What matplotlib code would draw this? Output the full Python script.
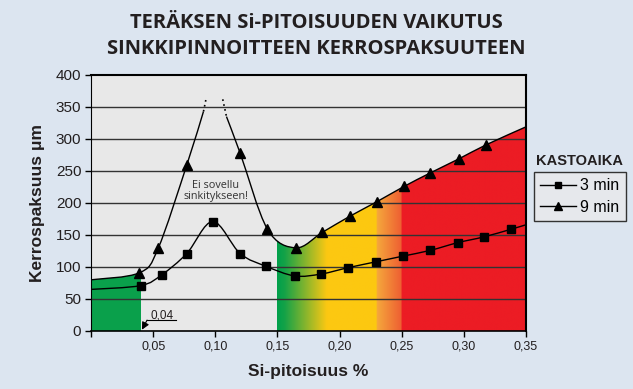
import numpy as np
import matplotlib
matplotlib.use("Agg")
import matplotlib.pyplot as plt
from matplotlib.path import Path
from matplotlib.patches import PathPatch, Rectangle
from matplotlib.lines import Line2D

# --- data --------------------------------------------------------------
# 3 min dip time (squares); first and last entries are line ends (no marker)
x_3min = [0.0, 0.040, 0.057, 0.077, 0.098, 0.120, 0.141, 0.164, 0.185,
          0.207, 0.229, 0.251, 0.273, 0.295, 0.316, 0.338, 0.350]
y_3min = [65, 71, 88, 121, 171, 121, 101, 86, 89, 99, 108, 117, 126,
          138, 147, 159, 166]

# 9 min dip time (triangles), curve broken at the peak
x_9min_left = [0.0, 0.039, 0.054, 0.077, 0.0905]
y_9min_left = [80, 91, 129, 259, 343]
x_9min_right = [0.109, 0.120, 0.142, 0.165, 0.186, 0.208, 0.230, 0.252,
                0.273, 0.296, 0.318, 0.350]
y_9min_right = [335, 278, 159, 130, 154, 179, 202, 226, 247, 269, 291, 319]
# dotted continuation towards the off-scale peak
peak_left = ([0.0905, 0.0925], [343, 362])
peak_right = ([0.106, 0.109], [362, 335])

x_ticks = [0.0, 0.05, 0.10, 0.15, 0.20, 0.25, 0.30, 0.35]
x_ticklabels = ["", "0,05", "0,10", "0,15", "0,20", "0,25", "0,30", "0,35"]
y_ticks = [0, 50, 100, 150, 200, 250, 300, 350, 400]

# colour zones along the Si axis (position, rgb)
zone_stops = [0.150, 0.156, 0.190, 0.230, 0.2302, 0.250, 0.2502, 0.350]
zone_colors = [(0, 160, 75), (20, 162, 72), (252, 200, 18), (253, 200, 16),
               (245, 168, 60), (238, 95, 50), (236, 28, 36), (236, 28, 36)]

BG = "#dce5f0"
PLOT_BG = "#e8e8e8"
GREEN = "#0aa04b"
TXT = "#231f20"


def smooth_path(xs, ys, close_to=None):
    """Catmull-Rom through the points, drawn as cubic Bezier segments."""
    p = np.column_stack([xs, ys]).astype(float)
    ext = np.vstack([p[0], p, p[-1]])
    verts = [p[0]]
    codes = [Path.MOVETO]
    for i in range(len(p) - 1):
        p0, p1, p2, p3 = ext[i], ext[i + 1], ext[i + 2], ext[i + 3]
        c1 = p1 + (p2 - p0) / 6.0
        c2 = p2 - (p3 - p1) / 6.0
        verts += [c1, c2, p2]
        codes += [Path.CURVE4] * 3
    if close_to is not None:
        verts += [(xs[-1], close_to), (xs[0], close_to), (xs[0], close_to)]
        codes += [Path.LINETO, Path.LINETO, Path.CLOSEPOLY]
    return Path(verts, codes)


plt.rcParams['font.family'] = ['Liberation Sans', 'DejaVu Sans']

fig = plt.figure(figsize=(6.33, 3.89), dpi=100, facecolor=BG)
ax = fig.add_axes([91 / 633, 1 - 331 / 389, 435 / 633, 256 / 389])
ax.set_facecolor(PLOT_BG)

# green zone on the left, under the 9 min curve
left_clip = PathPatch(smooth_path(x_9min_left, y_9min_left, close_to=0),
                      transform=ax.transData)
green = ax.add_patch(Rectangle((0, 0), 0.04, 400, color=GREEN, lw=0, zorder=1))
green.set_clip_path(left_clip)

# graded zone on the right, under the 9 min curve
gx = np.linspace(0.15, 0.35, 600)
grad = np.stack([np.interp(gx, zone_stops, [c[k] for c in zone_colors])
                 for k in range(3)], axis=-1)[None, :, :] / 255.0
right_clip = PathPatch(smooth_path(x_9min_right, y_9min_right, close_to=0),
                       transform=ax.transData)
im = ax.imshow(grad, extent=(0.15, 0.35, 0, 400), aspect="auto",
               interpolation="bilinear", zorder=1)
im.set_clip_path(right_clip)
ax.set_xlim(0, 0.35)
ax.set_ylim(0, 400)

# horizontal grid over the zones
for yv in y_ticks[1:-1]:
    ax.axhline(yv, color="#333333", lw=1.0, zorder=2)

# curves
for xs, ys in [(x_3min, y_3min), (x_9min_left, y_9min_left),
               (x_9min_right, y_9min_right)]:
    ax.add_patch(PathPatch(smooth_path(xs, ys), fill=False, ec="black",
                           lw=1.0, zorder=3))
for xs, ys in [peak_left, peak_right]:
    ax.plot(xs, ys, color="black", lw=1.2, ls=(0, (1, 2)), zorder=3)

ax.plot(x_3min[1:-1], y_3min[1:-1], ls="none", marker="s", ms=5.5,
        color="black", zorder=4)
ax.plot(x_9min_left[1:-1] + x_9min_right[1:-1],
        y_9min_left[1:-1] + y_9min_right[1:-1], ls="none", marker="^",
        ms=6.5, color="black", zorder=4)

ax.text(0.1005, 219, "Ei sovellu\nsinkitykseen!", ha="center", va="center",
        fontsize=7.8, color="#333333", family=["Open Sans", "DejaVu Sans"],
        linespacing=1.05, zorder=5)

# 0,04 marker
ax.text(0.0568, 25, "0,04", ha="center", va="center", fontsize=8.5,
        color=TXT, zorder=5)
ax.plot([0.0451, 0.0683], [17, 17], color="black", lw=0.8, zorder=5)
ax.annotate("", xy=(0.0410, 2), xytext=(0.0451, 17),
            arrowprops=dict(arrowstyle="-|>", color="black", lw=0.8,
                            mutation_scale=11, shrinkA=0, shrinkB=0),
            zorder=5)

# axes styling
for side in ["top", "right"]:
    ax.spines[side].set_linewidth(1.5)
ax.spines["left"].set_linewidth(0.8)
ax.spines["bottom"].set_linewidth(1.2)
ax.set_xticks(x_ticks)
ax.set_xticklabels(x_ticklabels, fontsize=9, color=TXT)
ax.set_yticks(y_ticks)
ax.set_yticklabels([str(v) for v in y_ticks], fontsize=11, color=TXT)
ax.tick_params(axis="both", direction="out", length=4, width=1, pad=3)
ax.set_xlabel("Si-pitoisuus %", fontsize=12.5, fontweight="bold",
              color=TXT, labelpad=8)
ax.set_ylabel("Kerrospaksuus μm", fontsize=12.5, fontweight="bold",
              color=TXT, labelpad=8)

# titles
fig.text(0.5, 1 - 23 / 389, "TERÄKSEN Si-PITOISUUDEN VAIKUTUS",
         ha="center", va="center", fontsize=14.5, fontweight="bold",
         color=TXT, family=["Open Sans", "DejaVu Sans"])
fig.text(0.5, 1 - 49 / 389, "SINKKIPINNOITTEEN KERROSPAKSUUTEEN",
         ha="center", va="center", fontsize=14.5, fontweight="bold",
         color=TXT, family=["Open Sans", "DejaVu Sans"])

# legend
fig.text(536 / 633, 1 - 161 / 389, "KASTOAIKA", ha="left", va="center",
         fontsize=10.5, fontweight="bold", color=TXT)
handles = [Line2D([], [], color="black", lw=1, marker="s", ms=5),
           Line2D([], [], color="black", lw=1, marker="^", ms=6)]
leg = fig.legend(handles, ["3 min", "9 min"], loc="upper left",
                 bbox_to_anchor=(534 / 633, 1 - 172 / 389), fontsize=11.5,
                 frameon=True, fancybox=False, edgecolor="#333333",
                 facecolor="#e6e8ec", framealpha=1, handlelength=2.2,
                 handletextpad=0.3, borderpad=0.4, labelspacing=0.4,
                 borderaxespad=0)
leg.get_frame().set_linewidth(1.0)

fig.savefig("out.png", dpi=100, facecolor=BG)
